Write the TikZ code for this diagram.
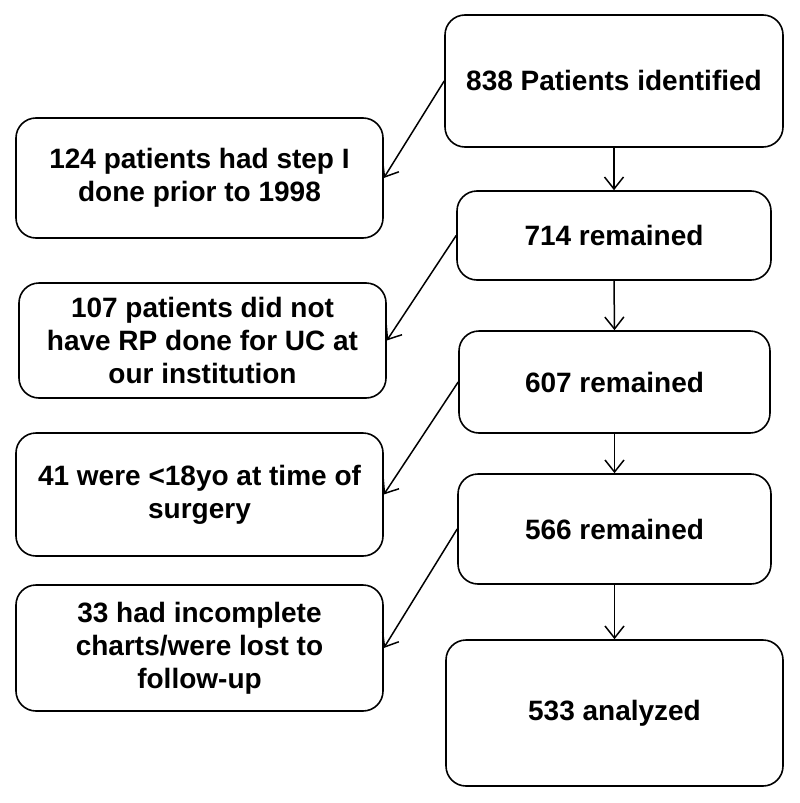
\documentclass[tikz,border=0pt]{standalone}
\usepackage{fontspec}
\setmainfont{Liberation Sans}
\usetikzlibrary{arrows.meta}
\begin{document}
\begin{tikzpicture}[x=1pt, y=-1pt, boxStyle/.style={rectangle, rounded corners=20pt, draw, line width=1.6pt, align=center, font=\fontsize{28}{33}\selectfont\bfseries, inner sep=0pt}, >={Straight Barb[length=12pt, width=19pt]}, every path/.style={line width=1.5pt}]
                    \useasboundingbox (0, 0) rectangle (800, 803);

                    \node[boxStyle, minimum width=338pt, minimum height=132pt] (r_0) at (614, 81) {838 Patients identified};
                    \node[boxStyle, minimum width=314pt, minimum height=89pt] (r_1) at (614, 235.5) {714 remained};
                    \node[boxStyle, minimum width=311pt, minimum height=102pt] (r_2) at (614.5, 382) {607 remained};
                    \node[boxStyle, minimum width=313pt, minimum height=110pt] (r_3) at (614.5, 529) {566 remained};
                    \node[boxStyle, minimum width=337pt, minimum height=146pt] (r_4) at (614.5, 713) {533 analyzed};

                    \node[boxStyle, minimum width=367pt, minimum height=120pt] (l_1) at (199.5, 178) {124 patients had step I\\done prior to 1998};
                    \node[boxStyle, minimum width=367pt, minimum height=115pt] (l_2) at (202.5, 340.5) {107 patients did not\\have RP done for UC at\\our institution};
                    \node[boxStyle, minimum width=367pt, minimum height=123pt] (l_3) at (199.5, 494.5) {41 were <18yo at time of\\surgery};
                    \node[boxStyle, minimum width=367pt, minimum height=126pt] (l_4) at (199.5, 648) {33 had incomplete\\charts/were lost to\\follow-up};

                    \draw[->] (r_0.south) -- (r_1.north);
                    \draw[->] (r_1.south) -- (r_2.north);
                    \draw[->] (r_2.south) -- (r_3.north);
                    \draw[->] (r_3.south) -- (r_4.north);

                    \draw[->] (r_0.west) -- (l_1.east);
                    \draw[->] (r_1.west) -- (l_2.east);
                    \draw[->] (r_2.west) -- (l_3.east);
                    \draw[->] (r_3.west) -- (l_4.east);
                \end{tikzpicture}
\end{document}
